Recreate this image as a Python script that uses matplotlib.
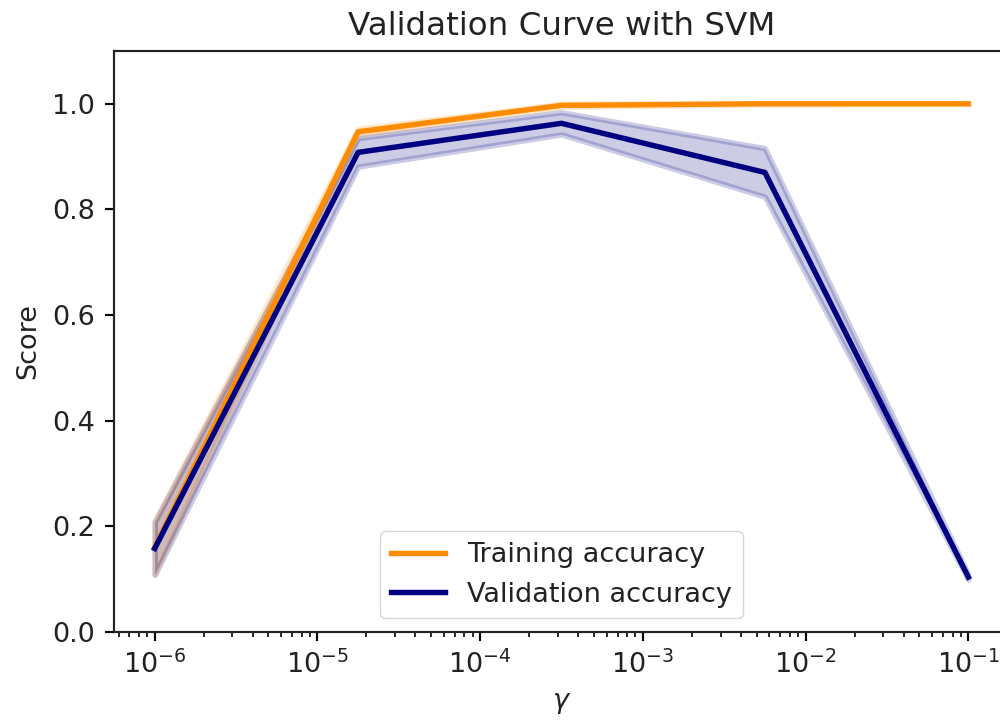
import numpy as np
import matplotlib
matplotlib.use("Agg")
import matplotlib.pyplot as plt

param_range = [1e-6, 10**-4.75, 10**-3.5, 10**-2.25, 1e-1]
train_mean = [0.160, 0.947, 0.997, 1.000, 1.000]
train_std = [0.050, 0.006, 0.003, 0.001, 0.000]
test_mean = [0.158, 0.908, 0.963, 0.870, 0.104]
test_std = [0.050, 0.027, 0.021, 0.046, 0.005]

s = 1.95
plt.rcParams.update({
    "font.size": 10 * s,
    "text.color": "#222222",
    "axes.labelcolor": "#222222",
    "xtick.labelcolor": "#222222",
    "ytick.labelcolor": "#222222",
    "axes.edgecolor": "#222222",
    "axes.linewidth": 0.8 * s,
    "xtick.major.width": 0.8 * s, "ytick.major.width": 0.8 * s,
    "xtick.minor.width": 0.6 * s, "ytick.minor.width": 0.6 * s,
    "xtick.major.size": 3.5 * s, "ytick.major.size": 3.5 * s,
    "xtick.minor.size": 2 * s, "ytick.minor.size": 2 * s,
    "xtick.major.pad": 3.5 * s, "ytick.major.pad": 3.5 * s,
    "axes.labelpad": 4 * s,
})

fig = plt.figure(figsize=(10, 7.25), dpi=100)
ax = fig.add_axes([0.114, 0.1283, 0.895, 0.8014])

lw = 2 * s
ax.set_title("Validation Curve with SVM", fontsize=12 * s, pad=6 * s)
ax.set_xlabel(r"$\gamma$")
ax.set_ylabel("Score")
ax.set_ylim(0.0, 1.1)
tm, ts = np.array(train_mean), np.array(train_std)
vm, vs = np.array(test_mean), np.array(test_std)
ax.semilogx(param_range, tm, label="Training accuracy", color="darkorange", lw=lw)
ax.fill_between(param_range, tm - ts, tm + ts, alpha=0.2, color="darkorange", lw=lw)
ax.semilogx(param_range, vm, label="Validation accuracy", color="navy", lw=lw)
ax.fill_between(param_range, vm - vs, vm + vs, alpha=0.2, color="navy", lw=lw)
ax.legend(loc="lower center")

fig.savefig("out.png", dpi=100)
